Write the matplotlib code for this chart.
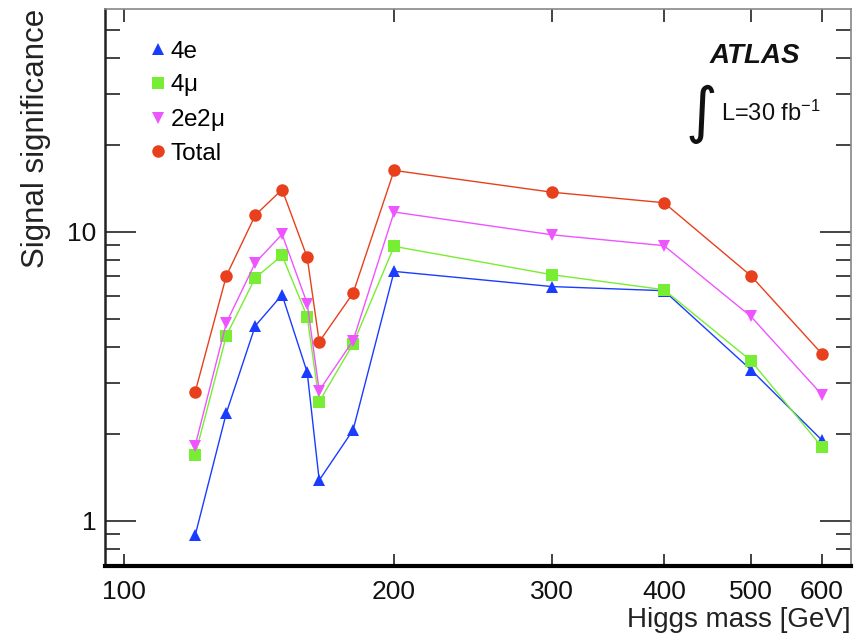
import matplotlib
matplotlib.use("Agg")
import matplotlib.pyplot as plt
from matplotlib.ticker import FixedLocator, NullFormatter, LogLocator

plt.rcParams['font.family'] = ['Liberation Sans', 'DejaVu Sans']
plt.rcParams['mathtext.fontset'] = 'custom'
plt.rcParams['mathtext.rm'] = 'Liberation Sans'
plt.rcParams['mathtext.it'] = 'Liberation Sans'

mass = [120, 130, 140, 150, 160, 165, 180, 200, 300, 400, 500, 600]
sig_4e = [0.89, 2.36, 4.72, 6.05, 3.26, 1.38, 2.06, 7.29, 6.46, 6.25, 3.33, 1.90]
sig_4mu = [1.69, 4.37, 6.92, 8.28, 5.08, 2.58, 4.09, 8.90, 7.10, 6.30, 3.58, 1.80]
sig_2e2mu = [1.82, 4.84, 7.80, 9.80, 5.64, 2.82, 4.20, 11.7, 9.76, 8.95, 5.09, 2.73]
sig_total = [2.79, 7.04, 11.4, 14.0, 8.15, 4.16, 6.13, 16.3, 13.7, 12.6, 7.04, 3.78]
x_ticks = [100, 200, 300, 400, 500, 600]
labels = ['4e', r'4$\mu$', r'2e2$\mu$', 'Total']

fig = plt.figure(figsize=(8.61, 6.41), dpi=100)
ax = fig.add_axes([0.122, 0.117, 0.866, 0.869])

series = [
    (sig_4e, '#1a3cff', '^', 9),
    (sig_4mu, '#77ee33', 's', 8.5),
    (sig_2e2mu, '#ee55ff', 'v', 9),
    (sig_total, '#e8401c', 'o', 9),
]
handles = []
for (vals, col, mk, ms), lab in zip(series, labels):
    h, = ax.plot(mass, vals, color=col, lw=1.0, marker=mk, markersize=ms,
                 markeredgewidth=0, label=lab)
    handles.append(h)

ax.set_xscale('log')
ax.set_yscale('log')
ax.set_xlim(95.2, 646)
ax.set_ylim(0.697, 59)

ax.xaxis.set_major_locator(FixedLocator(x_ticks))
ax.xaxis.set_major_formatter(matplotlib.ticker.FixedFormatter([str(v) for v in x_ticks]))
ax.xaxis.set_minor_locator(FixedLocator([]))
ax.xaxis.set_minor_formatter(NullFormatter())
ax.yaxis.set_major_locator(FixedLocator([1, 10]))
ax.yaxis.set_major_formatter(matplotlib.ticker.FixedFormatter(['1', '10']))
ax.yaxis.set_minor_locator(LogLocator(base=10, subs=range(2, 10)))
ax.yaxis.set_minor_formatter(NullFormatter())

ax.tick_params(axis='both', which='both', direction='in', top=True, right=True,
               colors='#222222', labelcolor='#111111', labelsize=19)
ax.tick_params(axis='y', which='major', length=22, width=1.2)
ax.tick_params(axis='y', which='minor', length=11, width=1.2)
ax.tick_params(axis='x', which='major', length=9, width=1.2, pad=10)
ax.tick_params(axis='y', which='major', pad=6)

for side in ['top', 'right']:
    ax.spines[side].set_color('#888888')
    ax.spines[side].set_linewidth(1.2)
ax.spines['left'].set_color('#222222')
ax.spines['left'].set_linewidth(1.8)
ax.spines['bottom'].set_color('#000000')
ax.spines['bottom'].set_linewidth(3)

ax.set_ylabel('Signal significance', fontsize=22.5, color='#222222', loc='top', labelpad=12)
ax.set_xlabel('Higgs mass [GeV]', fontsize=20, color='#222222', loc='right', labelpad=2)

leg = ax.legend(handles=handles, loc='upper left', bbox_to_anchor=(0.034, 0.982),
                frameon=False, fontsize=17.5, handlelength=0.5, handletextpad=0.25,
                labelspacing=0.38, markerscale=1.0)
for h in leg.legend_handles:
    h.set_linestyle('')

ax.text(0.872, 0.915, 'ATLAS', transform=ax.transAxes, fontsize=20,
        fontweight='bold', fontstyle='italic', ha='center', va='center', color='#111111')
ax.text(0.8, 0.81, '\u222b', transform=ax.transAxes, fontsize=44,
        ha='center', va='center', color='#111111', family=['DejaVu Sans'])
ax.text(0.826, 0.812, r'L=30 fb$^{\mathregular{-1}}$', transform=ax.transAxes, fontsize=17,
        ha='left', va='center', color='#111111')

fig.savefig('out.png', dpi=100)
